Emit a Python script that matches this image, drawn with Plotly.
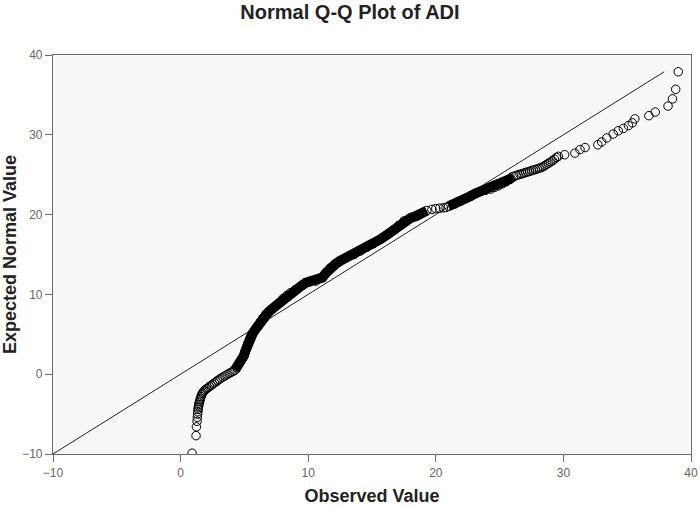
import plotly.graph_objects as go

# Normal Q-Q plot of ADI
# observed value (x) / expected normal value (y), split along the curve

# sparse lower tail and the grey hatched stretch below 0
low_obs = [0.90, 1.21, 1.24, 1.29, 1.31, 1.33, 1.35, 1.37, 1.39, 1.41, 1.43, 1.46,
           1.49, 1.52, 1.56, 1.60, 1.65, 1.70, 1.77, 1.85, 1.94, 2.05, 2.15, 2.27,
           2.40, 2.52, 2.65, 2.78, 2.90, 3.03, 3.17, 3.32, 3.48, 3.64, 3.80, 3.95, 4.10]
low_exp = [-9.9, -7.7, -6.6, -5.9, -5.4, -5.0, -4.7, -4.4, -4.2, -4.0, -3.8, -3.6,
           -3.4, -3.2, -3.0, -2.8, -2.6, -2.4, -2.25, -2.1, -1.95, -1.8, -1.7, -1.55,
           -1.4, -1.25, -1.1, -0.95, -0.8, -0.65, -0.5, -0.35, -0.2, -0.05, 0.1, 0.22, 0.35]

# first solid black band
band1_obs = [4.25, 4.40, 4.55, 4.70, 4.85, 4.95, 5.05, 5.12, 5.20, 5.30, 5.40, 5.50,
             5.65, 5.86, 6.05, 6.25, 6.45, 6.65, 6.90, 7.15, 7.40, 7.70, 8.00, 8.30,
             8.60, 9.00, 9.40, 9.80, 10.20, 10.60, 11.10, 11.40, 11.73, 12.10, 12.50,
             13.00, 13.60, 14.10, 14.60, 15.10, 15.65, 16.20, 16.70, 17.10, 17.50,
             18.00, 18.50, 18.90, 19.30]
band1_exp = [0.5, 0.8, 1.2, 1.65, 2.0, 2.3, 2.8, 3.2, 3.5, 4.0, 4.4, 4.75,
             5.1, 5.6, 6.1, 6.6, 7.05, 7.45, 7.8, 8.15, 8.5, 8.95, 9.45, 9.85,
             10.2, 10.6, 11.0, 11.45, 11.62, 11.68, 12.1, 12.7, 13.3, 13.75, 14.2,
             14.6, 15.0, 15.45, 15.9, 16.35, 16.9, 17.5, 18.1, 18.65, 19.2,
             19.55, 19.85, 20.2, 20.5]

# open circles around 20
gap_obs = [19.70, 20.00, 20.30, 20.60, 20.80]
gap_exp = [20.65, 20.75, 20.8, 20.85, 20.9]

# second solid band
band2_obs = [21.0, 21.5, 21.9, 22.3, 22.7, 23.1, 23.5, 23.9, 24.3, 24.6, 24.9,
             25.2, 25.5, 25.8, 26.1]
band2_exp = [21.05, 21.35, 21.65, 22.0, 22.3, 22.65, 22.9, 23.05, 23.2, 23.4, 23.6,
             23.85, 24.1, 24.45, 24.8]

# hatched stretch and sparse upper tail
high_obs = [26.30, 26.45, 26.60, 26.75, 26.90, 27.05, 27.20, 27.35, 27.50, 27.65,
            27.80, 27.95, 28.10, 28.25, 28.40, 28.55, 28.70, 28.85, 29.00, 29.15,
            29.30, 29.45, 29.60, 30.1, 30.9, 31.3, 31.7, 32.7, 33.0, 33.4, 33.9,
            34.3, 34.7, 35.1, 35.4, 35.6, 36.7, 37.2, 38.2, 38.55, 38.8, 39.0]
high_exp = [24.9, 24.98, 25.05, 25.12, 25.2, 25.27, 25.35, 25.42, 25.5, 25.58,
            25.65, 25.72, 25.8, 25.9, 26.0, 26.15, 26.3, 26.45, 26.6, 26.75,
            26.95, 27.15, 27.3, 27.5, 27.7, 28.15, 28.4, 28.75, 29.1, 29.6, 30.1,
            30.5, 30.8, 31.15, 31.5, 32.0, 32.4, 32.85, 33.6, 34.5, 35.7, 37.9]

ref_line = [-10, 37.9]

all_obs = low_obs + band1_obs + gap_obs + band2_obs + high_obs
all_exp = low_exp + band1_exp + gap_exp + band2_exp + high_exp

fig = go.Figure()

# y = x reference line
fig.add_trace(go.Scatter(x=ref_line, y=ref_line, mode="lines",
                         line=dict(color="#222222", width=1), hoverinfo="skip"))

# the overlapping circles form solid bands in the dense part
for xs, ys in [(band1_obs, band1_exp), (band2_obs, band2_exp)]:
    fig.add_trace(go.Scatter(x=xs, y=ys, mode="lines",
                             line=dict(color="black", width=10), hoverinfo="skip"))

fig.add_trace(go.Scatter(x=all_obs, y=all_exp, mode="markers",
                         marker=dict(symbol="circle-open", size=8.5, color="black",
                                     line=dict(width=1))))

axis_style = dict(range=[-10, 40], tickvals=[-10, 0, 10, 20, 30, 40],
                  showgrid=False, zeroline=False, showline=True, mirror=True,
                  linecolor="#6b6b6b", linewidth=1.2, ticks="outside", ticklen=7,
                  tickcolor="#6b6b6b", tickfont=dict(size=12, color="#666666"),
                  automargin=False)

fig.update_layout(
    width=700, height=508,
    margin=dict(l=53, r=9, t=55, b=54),
    paper_bgcolor="white", plot_bgcolor="#f8f8f8",
    font=dict(family="Liberation Sans, Arial, sans-serif", color="#222222"),
    showlegend=False,
    title=dict(text="<b>Normal Q-Q Plot of ADI</b>", x=0.5, xanchor="center",
               y=0.976, yanchor="middle", font=dict(size=20, color="#222222")),
    xaxis=dict(axis_style, title=dict(text="<b>Observed Value</b>",
                                      font=dict(size=18), standoff=10)),
    yaxis=dict(axis_style, title=dict(text="<b>Expected Normal Value</b>",
                                      font=dict(size=18), standoff=6)),
)

# drop the page's default body margin so the figure sits at the window corner
fig.write_html("out.html", config={"displayModeBar": False},
               post_script="document.body.style.margin = '0';")
